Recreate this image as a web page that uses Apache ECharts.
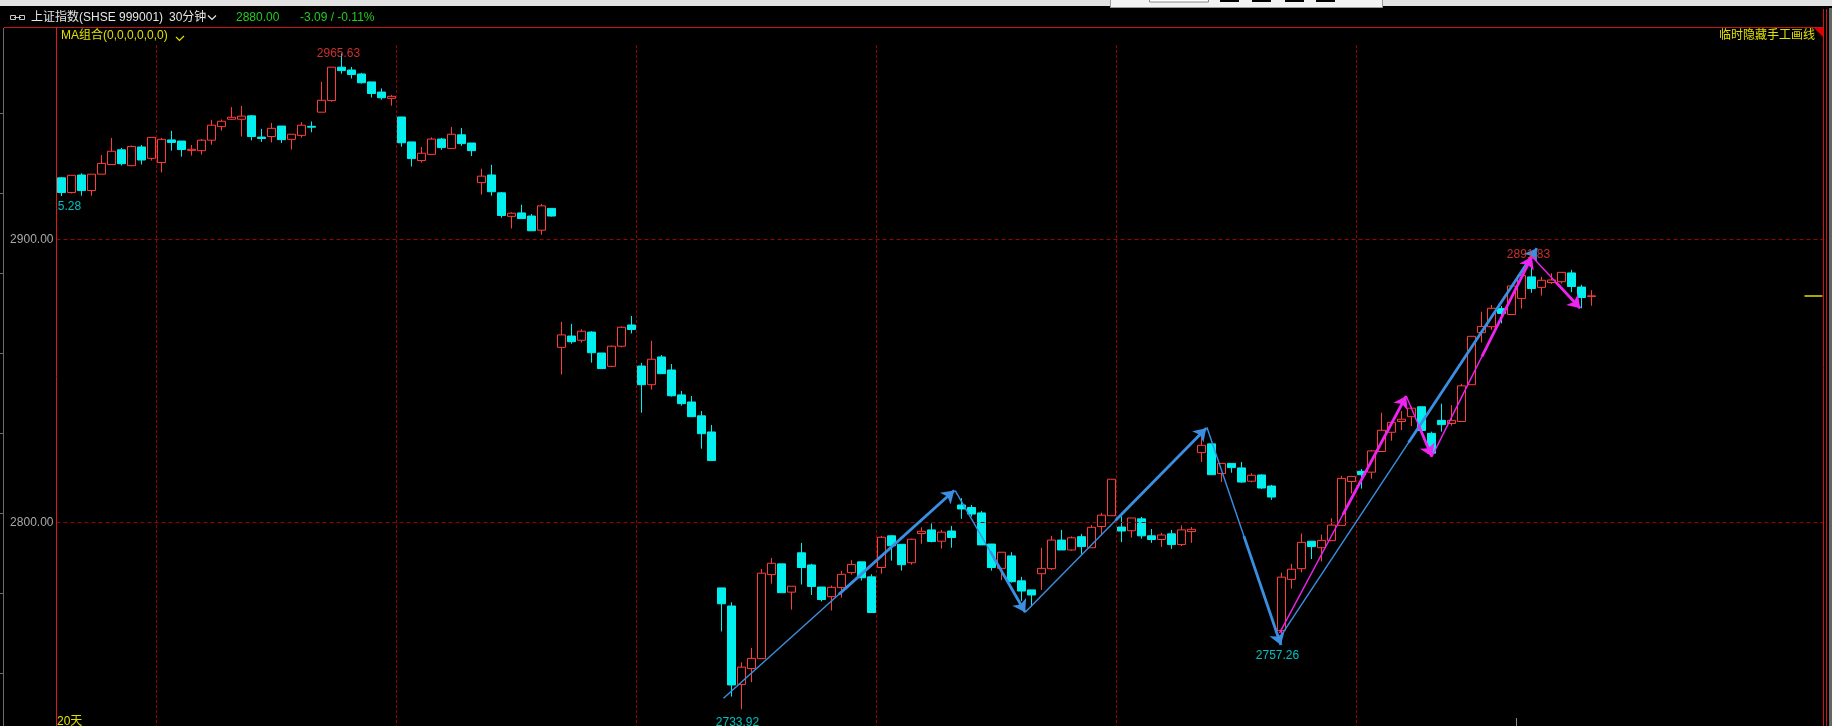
<!DOCTYPE html>
<html><head><meta charset="utf-8">
<script src="https://cdn.jsdelivr.net/npm/echarts@6/dist/echarts.min.js"></script>
<style>html,body{margin:0;padding:0;background:#000;overflow:hidden}#c{width:1832px;height:726px}</style>
</head><body><div id="c"></div>
<script>
// ---- data ----
const slotCount = 177;
const categories = Array.from({length: slotCount}, (_, i) => 'K' + (i + 1));
// [open, close, low, high] per 30-minute bar
const candles = [
[2921.7,2916.5,2915.28,2922.0],[2916.5,2922.6,2916.2,2922.6],[2922.7,2917.2,2915.4,2923.3],[2917.2,2923.0,2915.4,2923.0],
[2923.0,2926.8,2923.0,2929.8],[2926.4,2931.1,2926.4,2935.8],[2931.6,2926.7,2926.1,2932.3],[2926.0,2932.8,2925.8,2933.1],
[2932.6,2928.0,2926.4,2933.3],[2928.6,2936.0,2927.8,2936.0],[2927.1,2935.3,2923.6,2935.8],[2935.1,2934.2,2931.3,2938.3],
[2934.7,2931.7,2929.2,2934.7],[2931.4,2931.8,2929.6,2933.3],[2931.3,2935.0,2929.9,2935.4],[2935.0,2940.3,2933.4,2942.2],
[2939.8,2941.7,2938.4,2942.3],[2942.4,2943.1,2942.2,2946.7],[2942.4,2943.5,2936.3,2947.1],[2943.6,2936.3,2934.9,2943.9],
[2936.1,2935.6,2934.4,2939.0],[2936.3,2939.2,2934.2,2941.1],[2940.0,2935.2,2934.0,2940.0],[2935.3,2937.1,2931.7,2937.1],
[2936.7,2940.3,2935.9,2941.4],[2939.9,2939.6,2937.8,2941.6],[2944.9,2949.1,2944.9,2955.6],[2949.0,2960.8,2948.6,2960.8],
[2960.8,2959.6,2958.5,2965.63],[2959.8,2958.2,2956.8,2960.9],[2958.4,2955.3,2955.0,2958.8],[2955.6,2951.5,2950.1,2955.6],
[2952.0,2950.0,2949.3,2953.3],[2949.8,2950.5,2947.2,2951.0],[2943.2,2934.1,2932.7,2943.2],[2934.4,2928.5,2925.7,2934.4],
[2927.8,2930.4,2927.1,2932.6],[2930.0,2935.4,2929.8,2936.0],[2935.4,2932.4,2931.6,2935.8],[2932.1,2937.1,2932.1,2939.7],
[2936.9,2933.8,2933.0,2939.3],[2934.0,2931.3,2929.4,2934.0],[2920.0,2922.3,2915.8,2924.9],[2922.7,2916.8,2915.4,2926.3],
[2916.4,2908.4,2907.6,2916.7],[2908.1,2909.2,2903.8,2909.5],[2909.3,2907.3,2907.3,2912.2],[2908.2,2903.0,2903.0,2908.9],
[2903.2,2911.8,2901.6,2912.5],[2910.9,2908.2,2908.0,2911.0],[2861.8,2866.2,2852.2,2870.8],[2865.8,2863.8,2863.1,2870.1],
[2864.3,2867.5,2863.5,2868.2],[2867.2,2859.9,2856.4,2867.5],[2859.8,2854.3,2854.3,2859.8],[2855.1,2862.2,2854.8,2862.5],
[2862.2,2868.9,2861.8,2869.2],[2869.7,2868.1,2866.7,2872.9],[2855.2,2848.6,2838.7,2856.3],[2848.6,2857.6,2846.9,2864.1],
[2858.4,2852.5,2852.5,2859.1],[2853.8,2844.7,2844.4,2855.9],[2845.0,2841.9,2841.2,2846.4],[2842.5,2837.3,2837.3,2844.6],
[2837.6,2831.3,2826.0,2839.3],[2831.9,2821.8,2821.8,2834.4],[2776.8,2771.2,2761.4,2776.8],[2770.4,2742.5,2738.4,2771.7],
[2742.7,2748.8,2733.92,2750.5],[2748.3,2751.9,2743.5,2755.6],[2751.8,2782.0,2751.8,2783.5],[2781.5,2785.5,2778.3,2787.4],
[2785.3,2775.1,2775.1,2785.3],[2775.3,2777.4,2769.1,2777.4],[2789.2,2784.0,2778.0,2792.7],[2784.9,2777.3,2774.3,2785.3],
[2777.1,2772.7,2772.0,2777.1],[2773.7,2777.0,2768.8,2777.6],[2776.9,2781.6,2773.4,2782.8],[2782.2,2785.1,2781.5,2786.6],
[2786.0,2780.4,2779.4,2786.0],[2780.7,2768.1,2768.1,2781.6],[2784.0,2794.7,2781.8,2795.2],[2795.2,2791.7,2786.4,2795.4],
[2792.2,2785.0,2782.9,2792.2],[2785.7,2794.0,2785.0,2794.2],[2796.0,2796.8,2792.4,2798.2],[2797.3,2793.2,2792.9,2799.6],
[2793.3,2796.5,2790.7,2797.3],[2796.9,2794.6,2791.0,2798.7],[2806.1,2804.7,2801.2,2808.5],[2805.2,2802.9,2802.0,2806.1],
[2803.3,2792.0,2792.0,2804.0],[2792.3,2784.0,2782.9,2792.3],[2783.7,2789.4,2779.6,2789.4],[2788.1,2779.0,2778.7,2789.4],
[2779.3,2775.7,2772.2,2780.7],[2776.1,2774.3,2770.2,2776.1],[2781.8,2783.7,2776.1,2791.0],[2783.6,2793.7,2783.1,2795.2],
[2793.7,2790.2,2790.2,2797.3],[2790.2,2794.5,2789.9,2795.0],[2794.9,2791.4,2788.8,2795.9],[2791.0,2798.2,2791.0,2799.0],
[2798.5,2802.5,2795.4,2803.3],[2802.3,2815.2,2802.3,2815.2],[2798.3,2796.9,2793.0,2802.1],[2797.0,2801.5,2794.6,2801.5],
[2801.2,2795.2,2794.2,2801.9],[2795.2,2793.9,2792.7,2797.6],[2793.9,2795.5,2791.3,2796.2],[2795.9,2792.1,2790.6,2797.3],
[2792.1,2797.3,2791.6,2798.9],[2796.7,2797.5,2792.7,2798.3],[2824.6,2827.2,2821.3,2830.3],[2827.7,2816.8,2816.8,2827.7],
[2817.2,2820.8,2814.2,2820.8],[2820.8,2819.3,2817.5,2820.8],[2819.2,2814.2,2814.0,2821.3],[2814.5,2816.6,2814.1,2817.3],
[2816.7,2812.1,2811.8,2816.9],[2812.8,2808.9,2807.9,2813.2],[2761.7,2780.6,2757.26,2782.2],[2779.8,2783.4,2776.5,2785.3],
[2783.6,2792.9,2782.3,2796.0],[2793.3,2791.4,2787.0,2793.3],[2791.0,2793.6,2786.1,2795.6],[2793.5,2799.0,2793.5,2801.4],
[2798.9,2815.5,2798.9,2816.4],[2814.4,2816.2,2810.2,2816.2],[2818.0,2816.8,2811.9,2818.8],[2817.7,2825.2,2815.4,2825.5],
[2825.0,2832.5,2825.0,2838.7],[2831.8,2835.3,2828.8,2835.5],[2835.6,2836.4,2832.6,2839.3],[2837.3,2840.3,2834.0,2840.9],
[2840.8,2832.4,2832.4,2840.8],[2831.4,2824.4,2823.4,2832.0],[2836.0,2834.5,2832.0,2841.9],[2834.9,2836.0,2834.1,2841.4],
[2835.6,2848.2,2835.6,2848.9],[2848.6,2865.7,2848.6,2865.7],[2867.0,2869.2,2863.5,2874.4],[2869.1,2875.6,2868.0,2876.8],
[2875.5,2873.8,2870.3,2876.4],[2873.4,2883.5,2873.4,2883.5],[2879.1,2887.2,2875.5,2887.2],[2886.7,2882.6,2881.1,2891.83],
[2883.0,2885.5,2880.1,2886.7],[2884.7,2885.6,2884.2,2888.0],[2885.0,2888.3,2884.4,2888.3],[2888.1,2883.3,2881.3,2889.2],
[2883.1,2879.4,2875.6,2883.9],[2879.8,2880.0,2876.5,2882.0]
];
const gridLevels = [2900, 2800];
const dayDividers = [10, 34, 58, 82, 106, 130];
const lastPrice = 2880.00;
const changeText = '-3.09 / -0.11%';
// labelled extremes: [bar index, price]
const extremeHighs = [[28, 2965.63], [147, 2891.83]];
const extremeLows = [[0, 2915.28], [68, 2733.92], [122, 2757.26]];
// hand-drawn trend lines, [bar index, price] endpoints
const blueLines = [
  [[66.2, 2737.8], [89.27, 2811.2]],
  [[89.37, 2811.2], [96.37, 2768.2]],
  [[96.37, 2768.2], [114.47, 2833.2]],
  [[114.54, 2833.6], [121.94, 2756.6]],
  [[121.87, 2759.5], [147.54, 2896.8]]
];
const magentaLines = [
  [[121.8, 2760.8], [134.47, 2844.6]],
  [[134.47, 2844.6], [137.04, 2823.2]],
  [[137.04, 2823.2], [147.04, 2893.9]],
  [[147.04, 2893.9], [151.87, 2875.6]]
];
const priceMarker = [[174.3, lastPrice], [176.1, lastPrice]];

// ---- chart ----
const FONT = '"Liberation Sans","Noto Sans CJK SC",sans-serif';
const RED = '#ff3c3c', CYAN = '#00f0f0', BLUE = '#3b8fe2', MAG = '#f022f0', YEL = '#e0e000';
const GL = 56.5, GW = slotCount * 10;

function tail(segs, f) {
  return segs.map(([a, b]) => ({coords: [[a[0] + (b[0] - a[0]) * f, a[1] + (b[1] - a[1]) * f], b]}));
}
function whole(segs) { return segs.map(s => ({coords: s})); }

const chart = echarts.init(document.getElementById('c'), null, {renderer: 'canvas'});
const txt = (text, x, y, fill, align) => ({type: 'text', z: 60, silent: true,
  style: {text, x, y, fill, font: '12px ' + FONT, textAlign: align || 'left', textVerticalAlign: 'middle', verticalAlign: 'middle'}});
const ln = (x1, y1, x2, y2, stroke, w, z) => ({type: 'line', z: z || 60, silent: true,
  shape: {x1, y1, x2, y2}, style: {stroke, lineWidth: w || 1}});

chart.setOption({
  animation: false,
  backgroundColor: '#000',
  grid: [
    {left: GL, top: 27, width: GW, bottom: 0},
    {left: GL, top: 45, width: GW, bottom: 0}
  ],
  xAxis: [
    {type: 'category', gridIndex: 0, data: categories, boundaryGap: true, show: false},
    {type: 'value', gridIndex: 0, min: -0.5, max: slotCount - 0.5, show: false},
    {type: 'category', gridIndex: 1, data: categories, boundaryGap: true,
      axisLine: {show: false}, axisTick: {show: false}, axisLabel: {show: false},
      splitLine: {show: true, interval: (idx) => dayDividers.includes(idx),
        lineStyle: {color: '#9a0000', width: 1, type: [3, 2]}}}
  ],
  yAxis: [
    {type: 'value', gridIndex: 0, min: 2728, max: 2975, show: false},
    {type: 'value', gridIndex: 1, show: false}
  ],
  series: [
    {
      type: 'candlestick', xAxisIndex: 0, yAxisIndex: 0, data: candles, barWidth: 8, z: 3,
      itemStyle: {color: '#000', color0: CYAN, borderColor: RED, borderColor0: CYAN, borderWidth: 1},
      markLine: {
        silent: true, symbol: 'none', animation: false,
        lineStyle: {color: '#9a0000', width: 1, type: [4, 3]},
        label: {show: true, position: 'start', distance: 3, color: '#a8a8a8', fontSize: 12, fontFamily: FONT,
          formatter: p => p.value.toFixed(2)},
        data: gridLevels.map(v => ({yAxis: v}))
      }
    },
    {type: 'lines', coordinateSystem: 'cartesian2d', xAxisIndex: 1, yAxisIndex: 0, z: 5, silent: true,
      symbol: ['none', 'none'], lineStyle: {color: BLUE, width: 1.4, opacity: 1}, data: whole(blueLines)},
    {type: 'lines', coordinateSystem: 'cartesian2d', xAxisIndex: 1, yAxisIndex: 0, z: 5, silent: true,
      symbol: ['none', 'arrow'], symbolSize: [9, 12], lineStyle: {color: BLUE, width: 2.8, opacity: 1}, data: tail(blueLines, 0.5)},
    {type: 'lines', coordinateSystem: 'cartesian2d', xAxisIndex: 1, yAxisIndex: 0, z: 6, silent: true,
      symbol: ['none', 'none'], lineStyle: {color: MAG, width: 1.4, opacity: 1}, data: whole(magentaLines)},
    {type: 'lines', coordinateSystem: 'cartesian2d', xAxisIndex: 1, yAxisIndex: 0, z: 6, silent: true,
      symbol: ['none', 'arrow'], symbolSize: [9, 12], lineStyle: {color: MAG, width: 2.8, opacity: 1}, data: tail(magentaLines, 0.5)},
    {type: 'lines', coordinateSystem: 'cartesian2d', xAxisIndex: 1, yAxisIndex: 0, z: 6, silent: true,
      symbol: ['none', 'none'], lineStyle: {color: YEL, width: 1.5, opacity: 1}, data: [{coords: priceMarker}]},
    {type: 'scatter', xAxisIndex: 0, yAxisIndex: 0, z: 8, silent: true, symbolSize: 1,
      itemStyle: {color: 'rgba(0,0,0,0)'},
      label: {show: true, position: 'inside', fontSize: 12, fontFamily: FONT, formatter: p => p.value[1].toFixed(2)},
      data: [
        {value: extremeHighs[0], label: {color: RED, offset: [-3, 0]}},
        {value: extremeHighs[1], label: {color: RED, offset: [-3, -8]}},
        {value: extremeLows[0], label: {color: CYAN, offset: [-2, 11]}},
        {value: extremeLows[1], label: {color: CYAN, offset: [-4, 13]}},
        {value: extremeLows[2], label: {color: CYAN, offset: [-4, 12]}}
      ]}
  ],
  graphic: [
    // window chrome at very top
    {type: 'rect', z: 50, silent: true, shape: {x: 0, y: 0, width: 1832, height: 6}, style: {fill: '#e2e2e2'}},
    {type: 'rect', z: 51, silent: true, shape: {x: 1110.5, y: -1, width: 272, height: 8.5}, style: {fill: '#f2f2f2', stroke: '#9a9a9a'}},
    {type: 'rect', z: 52, silent: true, shape: {x: 1149.5, y: -1, width: 59, height: 3}, style: {fill: '#fff', stroke: '#8a8a8a'}},
    ...[1220, 1252, 1285, 1316].map(x => ({type: 'rect', z: 52, silent: true, shape: {x, y: 0, width: 19, height: 2}, style: {fill: '#000'}})),
    // link icon
    {type: 'rect', z: 60, silent: true, shape: {x: 10.5, y: 15.5, width: 5, height: 4}, style: {fill: 'none', stroke: '#c8c8c8'}},
    {type: 'rect', z: 60, silent: true, shape: {x: 19.5, y: 15.5, width: 5, height: 4}, style: {fill: 'none', stroke: '#c8c8c8'}},
    ln(14, 17.5, 21, 17.5, '#c8c8c8'),
    // header texts
    txt('上证指数(SHSE 999001)', 31, 18, '#e6e6e6'),
    txt('30分钟', 169, 18, '#e6e6e6'),
    {type: 'polyline', z: 60, silent: true, shape: {points: [[208, 15.5], [212, 19.5], [216, 15.5]]}, style: {stroke: '#e6e6e6', fill: 'none', lineWidth: 1.2}},
    txt(lastPrice.toFixed(2), 236, 18, '#22cc22'),
    txt(changeText, 300, 18, '#22cc22'),
    txt('MA组合(0,0,0,0,0,0)', 61, 36, YEL),
    {type: 'polyline', z: 60, silent: true, shape: {points: [[176, 37], [179.5, 40.5], [184, 36]]}, style: {stroke: YEL, fill: 'none', lineWidth: 1.2}},
    txt('临时隐藏手工画线', 1815, 36, YEL, 'right'),
    txt('20天', 57, 722, YEL),
    // cover clipping the first low label at the left plot edge
    {type: 'rect', z: 55, silent: true, shape: {x: 5, y: 198, width: 51.5, height: 17}, style: {fill: '#000'}},
    // frame lines
    ln(4, 27.5, 1824, 27.5, '#c81414'),
    ln(56.5, 27, 56.5, 726, '#e01818'),
    ln(1823.5, 9, 1823.5, 726, '#d01414'),
    ln(1826.5, 9, 1826.5, 726, '#d01414'),
    {type: 'rect', z: 60, silent: true, shape: {x: 1829, y: 8, width: 3, height: 718}, style: {fill: '#666'}},
    {type: 'polygon', z: 61, silent: true, shape: {points: [[1814, 28], [1823, 28], [1823, 37]]}, style: {fill: '#e00000'}},
    // left ruler
    ln(3.5, 28, 3.5, 726, '#6a6a6a'),
    ...[113, 193, 273, 353, 433, 513, 593, 673].map(y => ln(0, y + 0.5, 3, y + 0.5, '#6a6a6a')),
    // small gray tick at bottom
    ln(1516.5, 718, 1516.5, 726, '#8a8a8a')
  ]
});
</script>
</body></html>
